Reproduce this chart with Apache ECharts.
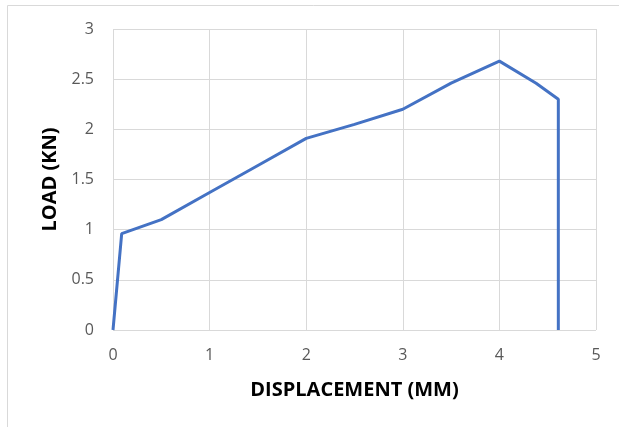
<!DOCTYPE html>
<html>
<head>
<meta charset="utf-8">
<script src="https://cdn.jsdelivr.net/npm/echarts@6/dist/echarts.min.js"></script>
<style>
html,body{margin:0;padding:0;background:#fff;}
#c{width:619px;height:427px;}
</style>
</head>
<body>
<div id="c"></div>
<script>
const displacement = [0, 0.09, 0.5, 1.0, 1.5, 2.0, 2.5, 3.0, 3.5, 4.0, 4.38, 4.61, 4.61];
const load = [0, 0.96, 1.10, 1.37, 1.64, 1.91, 2.05, 2.20, 2.46, 2.68, 2.46, 2.30, 0];
const xTitle = 'DISPLACEMENT (MM)';
const yTitle = 'LOAD (KN)';

const chart = echarts.init(document.getElementById('c'));
const font = '"Open Sans", "Liberation Sans", sans-serif';
chart.setOption({
  animation: false,
  graphic: [{
    type: 'rect',
    shape: {x: 7.5, y: 5.5, width: 700, height: 500},
    style: {fill: 'none', stroke: '#d9d9d9', lineWidth: 1},
    silent: true, z: -1
  }],
  grid: {left: 113, right: 23, top: 29, bottom: 97, containLabel: false},
  xAxis: {
    type: 'value', min: 0, max: 5, interval: 1,
    name: xTitle, nameLocation: 'middle', nameGap: 50,
    nameTextStyle: {fontFamily: font, fontWeight: 'bold', fontSize: 20, color: '#000'},
    axisLine: {show: false}, axisTick: {show: false},
    axisLabel: {fontFamily: font, fontSize: 16, color: '#595959', margin: 17},
    splitLine: {show: true, lineStyle: {color: '#d9d9d9', width: 1}}
  },
  yAxis: {
    type: 'value', min: 0, max: 3, interval: 0.5,
    name: yTitle, nameLocation: 'middle', nameGap: 53, nameRotate: 90,
    nameTextStyle: {fontFamily: font, fontWeight: 'bold', fontSize: 20, color: '#000'},
    axisLine: {show: false}, axisTick: {show: false},
    axisLabel: {fontFamily: font, fontSize: 16, color: '#595959', margin: 19},
    splitLine: {show: true, lineStyle: {color: '#d9d9d9', width: 1}}
  },
  series: [{
    type: 'line',
    data: displacement.map((d, i) => [d, load[i]]),
    showSymbol: false,
    lineStyle: {color: '#4472C4', width: 3},
    itemStyle: {color: '#4472C4'}
  }]
});
</script>
</body>
</html>
